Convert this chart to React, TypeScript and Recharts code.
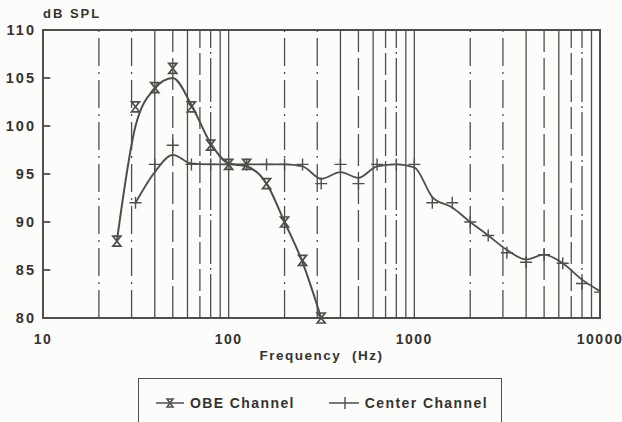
import { LineChart, Line, XAxis, YAxis, ReferenceLine, ReferenceArea, Legend } from "recharts";

const freqs = [25, 31.5, 40, 50, 63, 80, 100, 125, 160, 200, 250, 315, 400, 500, 630, 800, 1000, 1250, 1600, 2000, 2500, 3150, 4000, 5000, 6300, 8000, 10000];

// measured points (markers)
const obePoints = [88, 102, 104, 106, 102, 98, 96, 96, 94, 90, 86, 80];
const centerPoints = [null, 92, 96, 98, 96, 96, 96, 96, 96, 96, 96, 94, 96, 94, 96, 96, 96, 92, 92, 90, 88.6, 86.8, 85.8, 86.6, 85.7, 83.6, 82.7];

// smoothed curves
const obeCurve = [88, 100, 103.9, 105, 102.2, 98.2, 96.1, 95.8, 94, 90, 85.8, 80];
const centerCurve = [null, 92, 95.2, 97, 96.1, 96, 96, 96, 96, 96, 95.8, 94.5, 95.2, 94.6, 95.8, 96, 95.7, 92.6, 91.5, 90, 88.6, 87.1, 86.1, 86.6, 85.7, 84, 82.8];

const xTicks = [10, 100, 1000, 10000];
const yTicks = [80, 85, 90, 95, 100, 105, 110];
const gridFreqs = [20, 30, 40, 50, 60, 70, 80, 90, 100, 200, 300, 400, 500, 600, 700, 800, 900, 1000, 2000, 3000, 4000, 5000, 6000, 7000, 8000, 9000];

const data = freqs.map((f, i) => ({
  f,
  obe: obePoints[i] ?? null,
  obeFit: obeCurve[i] ?? null,
  center: centerPoints[i],
  centerFit: centerCurve[i],
}));

const INK = "#4e4e4b";
const TEXT = "#333331";
const FONT = "'Liberation Sans', Arial, sans-serif";
const TICK_END = 10.95; // inner tick marks reach this far right on the log axis

function gridDash(f: number) {
  const lead = Number(String(f)[0]);
  if (lead === 2 || lead === 3) return "28 6 2 6";
  if (lead === 5) return "32 6";
  if (lead === 7) return "22 5";
  if (lead === 8) return "44 4 2 4";
  return undefined;
}

function HourGlass(props: any) {
  const { cx, cy } = props;
  if (cx == null || cy == null || props.value == null) return null;
  return (
    <path
      d={`M${cx - 4},${cy - 5} L${cx + 4},${cy - 5} L${cx - 4},${cy + 5} L${cx + 4},${cy + 5} Z`}
      fill="none"
      stroke={INK}
      strokeWidth={1.7}
    />
  );
}

function Plus(props: any) {
  const { cx, cy } = props;
  if (cx == null || cy == null || props.value == null) return null;
  return <path d={`M${cx - 6},${cy} H${cx + 6} M${cx},${cy - 6} V${cy + 6}`} stroke={INK} strokeWidth={1.4} fill="none" />;
}

function YTick(props: any) {
  const { x, y, payload } = props;
  return (
    <text
      x={x - 5}
      y={y}
      dy={5}
      textAnchor="end"
      fontFamily={FONT}
      fontWeight={700}
      fontSize={14.5}
      fill={TEXT}
      style={{ letterSpacing: 2 }}
    >
      {payload.value}
    </text>
  );
}

function LegendBox() {
  const text = { fontFamily: FONT, fontWeight: 700, fontSize: 14, color: TEXT, letterSpacing: 1.4 };
  return (
    <div
      style={{
        borderLeft: `1.5px solid ${INK}`,
        borderRight: `1.5px solid ${INK}`,
        borderTop: `1.5px solid ${INK}`,
        height: 48,
        display: "flex",
        alignItems: "center",
        boxSizing: "border-box",
        paddingLeft: 16,
      }}
    >
      <svg width={30} height={14}>
        <line x1={1} y1={7} x2={29} y2={7} stroke={INK} strokeWidth={1.5} />
        <path d="M12,3 L18,3 L12,11 L18,11 Z" fill="none" stroke={INK} strokeWidth={1.5} />
      </svg>
      <span style={{ ...text, marginLeft: 5 }}>OBE Channel</span>
      <svg width={32} height={14} style={{ marginLeft: 33 }}>
        <line x1={1} y1={7} x2={31} y2={7} stroke={INK} strokeWidth={1.5} />
        <line x1={17} y1={1} x2={17} y2={13} stroke={INK} strokeWidth={1.4} />
      </svg>
      <span style={{ ...text, marginLeft: 5 }}>Center Channel</span>
    </div>
  );
}

export default function App() {
  return (
    <div style={{ position: "absolute", left: 0, top: 0, width: 622, height: 422, background: "#fcfcfa", overflow: "hidden" }}>
      <LineChart width={622} height={422} data={data} margin={{ top: 30, right: 22, bottom: 0, left: 0 }}>
        <XAxis
          dataKey="f"
          type="number"
          scale="log"
          domain={[10, 10000]}
          ticks={xTicks}
          allowDataOverflow
          height={104}
          axisLine={false}
          tickLine={false}
          tick={{ fontFamily: FONT, fontWeight: 700, fontSize: 14, fill: TEXT, dy: 8, letterSpacing: 1.5 }}
          label={{
            content: (p: any) => (
              <text
                x={p.viewBox.x + p.viewBox.width / 2}
                y={p.viewBox.y + 42}
                textAnchor="middle"
                style={{ whiteSpace: "pre", letterSpacing: 1.5 }}
                fontFamily={FONT}
                fontWeight={700}
                fontSize={13.5}
                fill={TEXT}
              >
                {"Frequency  (Hz)"}
              </text>
            ),
          }}
        />
        <YAxis
          type="number"
          domain={[80, 110]}
          ticks={yTicks}
          width={43}
          axisLine={false}
          tickLine={false}
          tickSize={0}
          tickMargin={2}
          interval={0}
          tick={<YTick />}
          label={{
            content: (p: any) => (
              <text
                x={p.viewBox.x + p.viewBox.width}
                y={p.viewBox.y - 12}
                fontFamily={FONT}
                fontWeight={700}
                fontSize={13}
                fill={TEXT}
                style={{ letterSpacing: 2 }}
              >
                dB SPL
              </text>
            ),
          }}
        />
        {gridFreqs.map((f) => (
          <ReferenceLine key={f} x={f} stroke={INK} strokeWidth={1.3} strokeDasharray={gridDash(f)} ifOverflow="hidden" />
        ))}
        {yTicks.map((v) => (
          <ReferenceLine
            key={`t${v}`}
            segment={[{ x: 10, y: v }, { x: TICK_END, y: v }]}
            stroke={INK}
            strokeWidth={1.8}
          />
        ))}
        <ReferenceArea x1={10} x2={10000} y1={80} y2={110} fill="none" stroke={INK} strokeWidth={2} />
        <Line dataKey="obeFit" type="monotone" stroke={INK} strokeWidth={2} dot={false} isAnimationActive={false} />
        <Line dataKey="centerFit" type="monotone" stroke={INK} strokeWidth={1.8} dot={false} isAnimationActive={false} />
        <Line dataKey="obe" stroke="none" dot={<HourGlass />} activeDot={false} isAnimationActive={false} />
        <Line dataKey="center" stroke="none" dot={<Plus />} activeDot={false} isAnimationActive={false} />
        <Legend
          layout="horizontal"
          verticalAlign="middle"
          align="center"
          content={() => <LegendBox />}
          wrapperStyle={{ left: 138, top: 378, width: 364, height: 48 }}
        />
      </LineChart>
    </div>
  );
}
